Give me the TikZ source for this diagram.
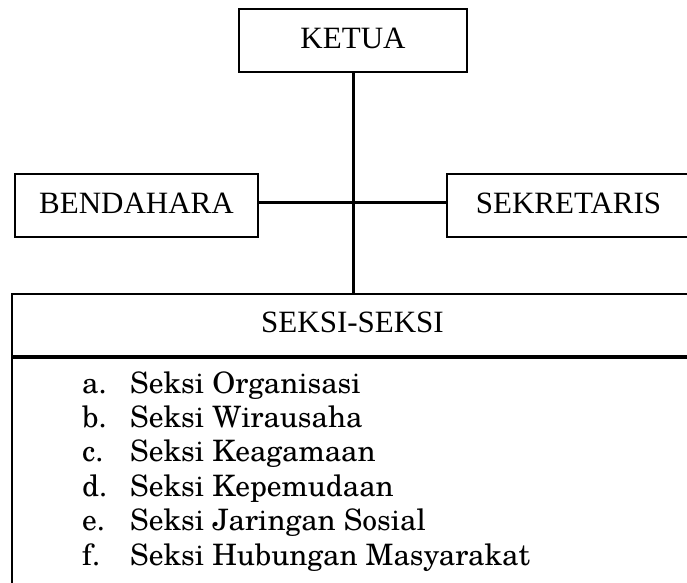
\documentclass[tikz,border=0pt]{standalone}
\usepackage{fontspec}
\setmainfont{Liberation Serif}
\newfontfamily\listfont{TeX Gyre Schola}
\begin{document}
\begin{tikzpicture}[x=1pt,y=-1pt,
  orgbox/.style={draw=black,line width=2pt,rectangle,inner sep=0pt,
    text height=20.5pt,text depth=5pt,font=\fontsize{31}{37}\selectfont},
  conn/.style={draw=black,line width=3pt},
  item/.style={anchor=base west,inner sep=0pt,font=\listfont\fontsize{29.5}{34}\selectfont}]
\clip (0,0) rectangle (687,582);
\node[orgbox,minimum width=228pt,minimum height=63pt] (ketua) at (353,40.5) {KETUA};
\node[orgbox,minimum width=243pt,minimum height=63pt] (bendahara) at (136.5,205.5) {BENDAHARA};
\node[orgbox,minimum width=243pt,minimum height=63pt] (sekretaris) at (568.5,205.5) {SEKRETARIS};
\node[orgbox,minimum width=681pt,minimum height=62pt] (seksi) at (352.5,325) {SEKSI-SEKSI};
\node[draw=black,line width=2pt,rectangle,minimum width=681pt,minimum height=264pt,anchor=north] (daftar) at (seksi.south) {};
\draw[conn] (ketua.south) -- (ketua.south |- seksi.north);
\draw[conn] ([yshift=3.5pt]bendahara.east) -- ([yshift=3.5pt]sekretaris.west);
\node[item] (la) at (82,393) {a.};
\node[item] (ta) at (130,393) {Seksi Organisasi};
\node[item] (lb) at (82,427.4) {b.};
\node[item] (tb) at (130,427.4) {Seksi Wirausaha};
\node[item] (lc) at (82,461.8) {c.};
\node[item] (tc) at (130,461.8) {Seksi Keagamaan};
\node[item] (ld) at (82,496.2) {d.};
\node[item] (td) at (130,496.2) {Seksi Kepemudaan};
\node[item] (le) at (82,530.6) {e.};
\node[item] (te) at (130,530.6) {Seksi Jaringan Sosial};
\node[item] (lf) at (82,565) {f.};
\node[item] (tf) at (130,565) {Seksi Hubungan Masyarakat};
\end{tikzpicture}
\end{document}
